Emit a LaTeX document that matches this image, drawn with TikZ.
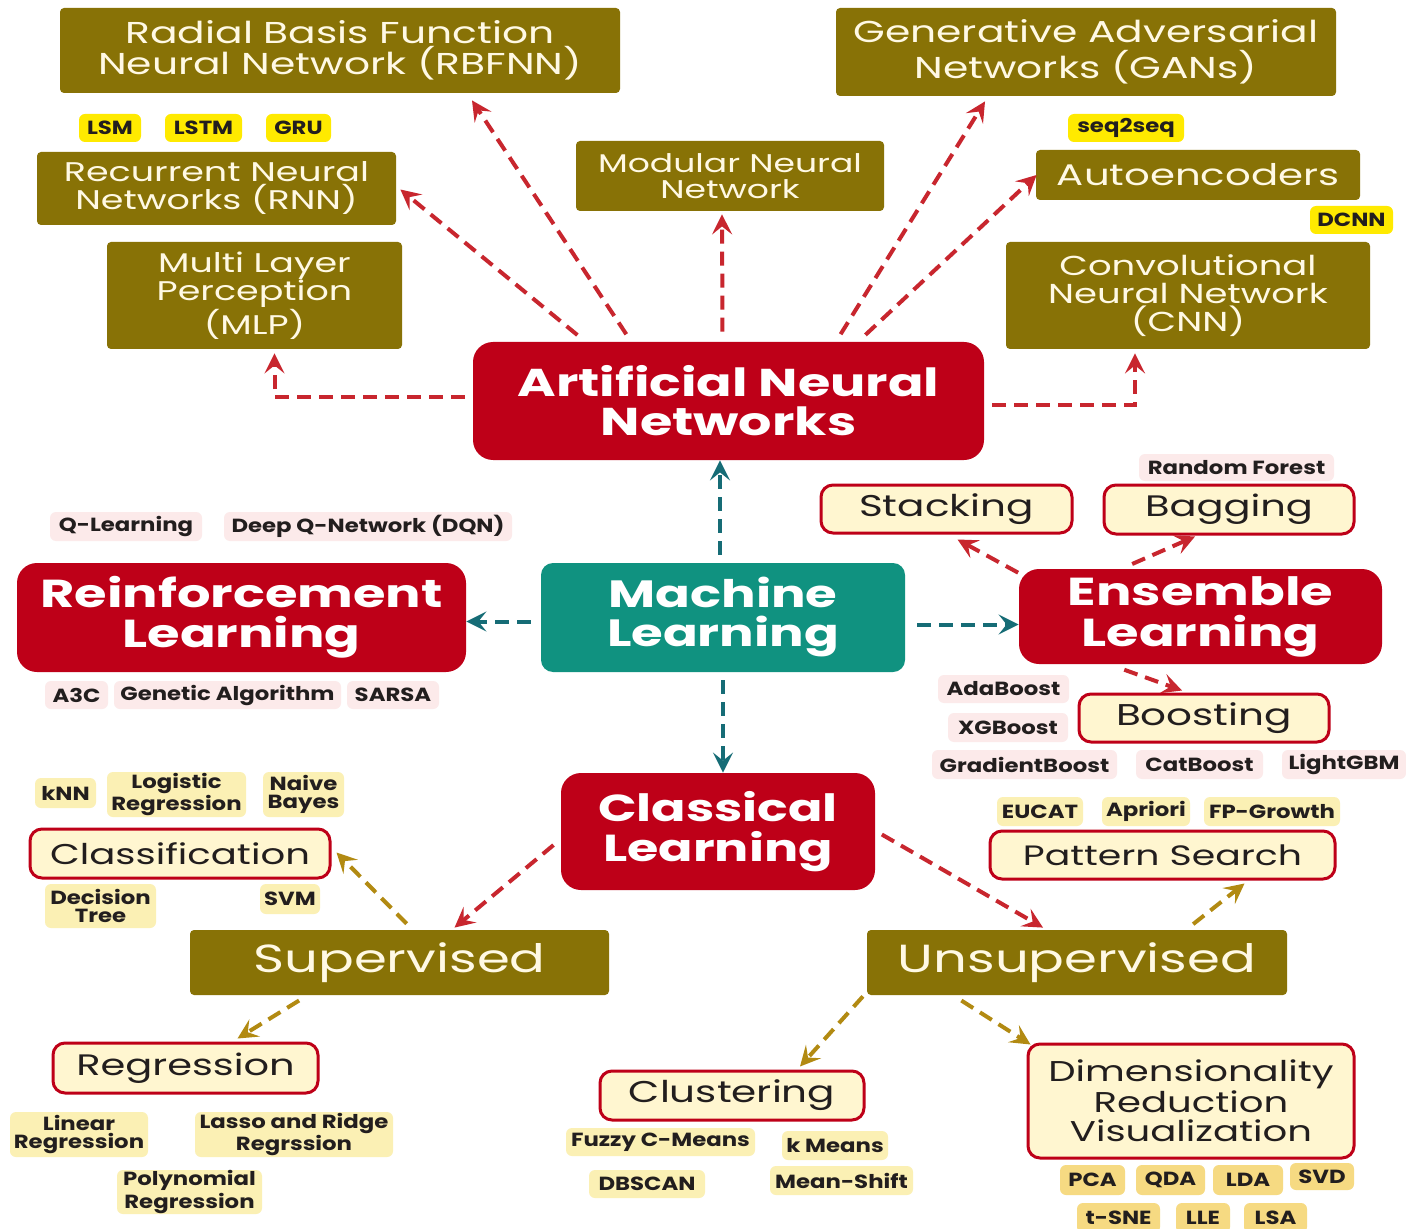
\documentclass[tikz,border=0pt]{standalone}
\usepackage{fontspec}
\setmainfont{Poppins}[FakeStretch=1.35]
\newfontfamily\tagfont{Poppins}[FakeStretch=1.2]
\usetikzlibrary{arrows.meta,calc}

\definecolor{boxolive}{RGB}{136,114,6}
\definecolor{olivetext}{RGB}{255,249,228}
\definecolor{mlred}{RGB}{190,0,24}
\definecolor{mlteal}{RGB}{16,146,128}
\definecolor{arrred}{RGB}{200,38,46}
\definecolor{arrteal}{RGB}{22,108,118}
\definecolor{arrolive}{RGB}{178,138,18}
\definecolor{tagyellow}{RGB}{255,234,0}
\definecolor{tagpale}{RGB}{251,240,180}
\definecolor{taggold}{RGB}{246,218,130}
\definecolor{tagpink}{RGB}{252,234,234}
\definecolor{creamfill}{RGB}{255,246,208}
\definecolor{tagtext}{RGB}{34,30,30}

\newcommand\fs[2]{\fontsize{#1}{#2}\selectfont}
% box from its pixel corners: name, x1, y1, x2, y2, style, text
\newcommand\bx[7]{\node[#6,minimum width={(#4-#2)*0.5pt},minimum height={(#5-#3)*0.5pt}] (#1) at ({(#2+#4)/2},{(#3+#5)/2}) {#7};}

\begin{document}
\begin{tikzpicture}[x=0.5pt,y=-0.5pt,
  every node/.style={inner sep=0pt,align=center},
  olivebox/.style={fill=boxolive,text=olivetext,rounded corners=2pt},
  redbox/.style={fill=mlred,text=white,rounded corners=10pt},
  tealbox/.style={fill=mlteal,text=white,rounded corners=6pt},
  creambox/.style={fill=creamfill,draw=mlred,line width=1.5pt,rounded corners=6pt,text=tagtext},
  tagbase/.style={rounded corners=3pt,text=tagtext,font=\tagfont\bfseries\fs{9.5}{9}},
  ytag/.style={tagbase,fill=tagyellow},
  ptag/.style={tagbase,fill=tagpink},
  ltag/.style={tagbase,fill=tagpale},
  gtag/.style={tagbase,fill=taggold},
  arrbase/.style={line width=2pt,dash pattern=on 7pt off 4pt,
    -{Stealth[length=10pt,width=10pt,inset=4pt]},shorten <=2pt},
  redarr/.style={arrbase,draw=arrred},
  tealarr/.style={arrbase,draw=arrteal},
  olivearr/.style={arrbase,draw=arrolive}]

\clip (0,0) rectangle (1406,1229);
\fill[white] (0,0) rectangle (1406,1229);

% neural network families
\bx{rbf}{60}{8}{620}{93}{olivebox,font=\fs{15.1}{15.5}}{Radial Basis Function\\Neural Network (RBFNN)}
\bx{gan}{836}{8}{1336}{96}{olivebox,font=\fs{15.1}{18}}{Generative Adversarial\\Networks (GANs)}
\bx{rnn}{37}{152}{396}{225}{olivebox,font=\fs{13.5}{14}}{Recurrent Neural\\Networks (RNN)}
\bx{mod}{576}{141}{884}{211}{olivebox,font=\fs{12.8}{13}}{Modular Neural\\Network}
\bx{ae}{1036}{150}{1360}{200}{olivebox,font=\fs{14.9}{15}}{Autoencoders}
\bx{mlp}{107}{242}{402}{349}{olivebox,font=\fs{13.5}{14}}{Multi Layer\\Perception\\(MLP)}
\bx{cnn}{1006}{242}{1370}{349}{olivebox,font=\fs{13.7}{14}}{Convolutional\\Neural Network\\(CNN)}

\bx{lsm}{79}{114}{141}{142}{ytag}{LSM}
\bx{lstm}{165}{114}{242}{142}{ytag}{LSTM}
\bx{gru}{266}{114}{331}{142}{ytag}{GRU}
\bx{s2s}{1068}{114}{1184}{142}{ytag}{seq2seq}
\bx{dcnn}{1310}{206}{1393}{234}{ytag}{DCNN}

% main branches
\bx{ann}{473}{342}{984}{460}{redbox,font=\bfseries\fs{19.4}{19.5}}{Artificial Neural\\Networks}
\bx{rl}{17}{563}{466}{672}{redbox,font=\bfseries\fs{19.5}{20}}{Reinforcement\\Learning}
\bx{ml}{541}{563}{905}{672}{tealbox,font=\bfseries\fs{19}{19.5}}{Machine\\Learning}
\bx{el}{1019}{569}{1382}{664}{redbox,font=\bfseries\fs{19.5}{20.5}}{Ensemble\\Learning}
\bx{cl}{561}{773}{875}{890}{redbox,font=\bfseries\fs{18.8}{20}}{Classical\\Learning}

% reinforcement learning methods
\bx{ql}{50}{512}{202}{541}{ptag}{Q-Learning}
\bx{dqn}{224}{512}{512}{541}{ptag}{Deep Q-Network (DQN)}
\bx{a3c}{45}{681}{108}{709}{ptag}{A3C}
\bx{ga}{114}{681}{341}{709}{ptag}{Genetic Algorithm}
\bx{sarsa}{347}{681}{439}{709}{ptag}{SARSA}

% ensemble methods
\bx{stack}{821}{485}{1072}{533}{creambox,font=\fs{15}{15}}{Stacking}
\bx{bag}{1104}{485}{1354}{534}{creambox,font=\fs{14.8}{15}}{Bagging}
\bx{boost}{1079}{694}{1329}{742}{creambox,font=\fs{15}{15}}{Boosting}
\bx{rf}{1139}{454}{1334}{481}{ptag}{Random Forest}
\bx{ada}{938}{675}{1069}{703}{ptag}{AdaBoost}
\bx{xgb}{948}{713}{1068}{742}{ptag}{XGBoost}
\bx{gb}{932}{750}{1117}{779}{ptag}{GradientBoost}
\bx{cat}{1136}{750}{1263}{779}{ptag}{CatBoost}
\bx{lgbm}{1282}{750}{1406}{779}{ptag}{LightGBM}

% classical learning
\bx{sup}{190}{930}{609}{995}{olivebox,font=\fs{19.6}{20}}{Supervised}
\bx{uns}{867}{930}{1287}{995}{olivebox,font=\fs{19.6}{20}}{Unsupervised}
\bx{class}{30}{829}{330}{878}{creambox,font=\fs{14.3}{15}}{Classification}
\bx{reg}{53}{1043}{318}{1093}{creambox,font=\fs{14.8}{15}}{Regression}
\bx{ps}{990}{831}{1335}{879}{creambox,font=\fs{14}{15}}{Pattern Search}
\bx{clu}{600}{1071}{864}{1120}{creambox,font=\fs{15}{15}}{Clustering}
\bx{dim}{1028}{1044}{1354}{1158}{creambox,font=\fs{14.3}{14.5}}{Dimensionality\\Reduction\\Visualization}

\bx{knn}{35}{778}{96}{808}{ltag}{kNN}
\bx{logr}{107}{772}{246}{817}{ltag}{Logistic\\Regression}
\bx{nb}{263}{772}{344}{817}{ltag}{Naive\\Bayes}
\bx{dt}{45}{884}{156}{928}{ltag}{Decision\\Tree}
\bx{svm}{260}{884}{320}{914}{ltag}{SVM}
\bx{linr}{10}{1112}{148}{1157}{ltag}{Linear\\Regression}
\bx{lasso}{195}{1112}{393}{1157}{ltag}{Lasso and Ridge\\Regrssion}
\bx{poly}{117}{1170}{262}{1214}{ltag}{Polynomial\\Regression}

\bx{eucat}{997}{797}{1083}{826}{ltag}{EUCAT}
\bx{apr}{1102}{797}{1190}{826}{ltag}{Apriori}
\bx{fpg}{1204}{797}{1340}{826}{ltag}{FP-Growth}
\bx{fcm}{566}{1128}{755}{1156}{ltag}{Fuzzy C-Means}
\bx{km}{782}{1131}{888}{1160}{ltag}{k Means}
\bx{dbs}{589}{1170}{705}{1198}{ltag}{DBSCAN}
\bx{ms}{770}{1166}{913}{1195}{ltag}{Mean-Shift}

\bx{pca}{1060}{1165}{1125}{1195}{gtag}{PCA}
\bx{qda}{1136}{1165}{1205}{1195}{gtag}{QDA}
\bx{lda}{1213}{1165}{1283}{1195}{gtag}{LDA}
\bx{svd}{1290}{1163}{1354}{1190}{gtag}{SVD}
\bx{tsne}{1077}{1203}{1160}{1233}{gtag}{t-SNE}
\bx{lle}{1176}{1203}{1230}{1233}{gtag}{LLE}
\bx{lsa}{1244}{1203}{1307}{1233}{gtag}{LSA}

% connectors from the neural network hub
\draw[redarr] ([shift={(-148,-4)}]ann.north) -- ([shift={(4,1)}]rnn.east);
\draw[redarr] ([shift={(-100,-4)}]ann.north) -- ([shift={(132,7)}]rbf.south);
\draw[redarr] ([shift={(-6,-6)}]ann.north) -- ([shift={(-8,3)}]mod.south);
\draw[redarr] ([shift={(110,-4)}]ann.north) -- ([shift={(-101,5)}]gan.south);
\draw[redarr] ([shift={(134,-4)}]ann.north) -- ([shift={(1,0)}]ae.west);
\draw[redarr] ([shift={(-4,-4)}]ann.west) -| ([shift={(20,4)}]mlp.south);
\draw[redarr] ([shift={(4,4)}]ann.east) -| ([shift={(-53,4)}]cnn.south);

% connectors from machine learning
\draw[tealarr] ([shift={(-3,-4)}]ml.north) -- ([shift={(-3,0)}]ml.north |- ann.south);
\draw[tealarr] ([shift={(-6,4)}]ml.west) -- ([shift={(0,4)}]ml.west -| rl.east);
\draw[tealarr] ([shift={(8,7)}]ml.east) -- ([shift={(0,7)}]ml.east -| el.west);
\draw[tealarr] ([shift={(0,4)}]ml.south) -- (ml.south |- cl.north);

% ensemble connectors
\draw[redarr] ([shift={(3,6)}]el.north west) -- ([shift={(11,5)}]stack.south);
\draw[redarr] ([shift={(-72,-3)}]el.north) -- ([shift={(-34,1)}]bag.south);
\draw[redarr] ([shift={(-80,4)}]el.south) -- ([shift={(-22,-2)}]boost.north);

% classical learning connectors
\draw[redarr] ([shift={(-4,11)}]cl.west) -- ([shift={(55,-2)}]sup.north);
\draw[redarr] ([shift={(3,1)}]cl.east) -- ([shift={(-34,-2)}]uns.north);
\draw[olivearr] ([shift={(10,-3)}]sup.north) -- ([shift={(5,-1)}]class.east);
\draw[olivearr] ([shift={(-97,3)}]sup.south) -- ([shift={(52,-3)}]reg.north);
\draw[olivearr] ([shift={(113,-3)}]uns.north) -- ([shift={(82,3)}]ps.south);
\draw[olivearr] ([shift={(-1,-2)}]uns.south west) -- ([shift={(68,-3)}]clu.north);
\draw[olivearr] ([shift={(-119,3)}]uns.south) -- ([shift={(4,2)}]dim.north west);
\end{tikzpicture}
\end{document}
